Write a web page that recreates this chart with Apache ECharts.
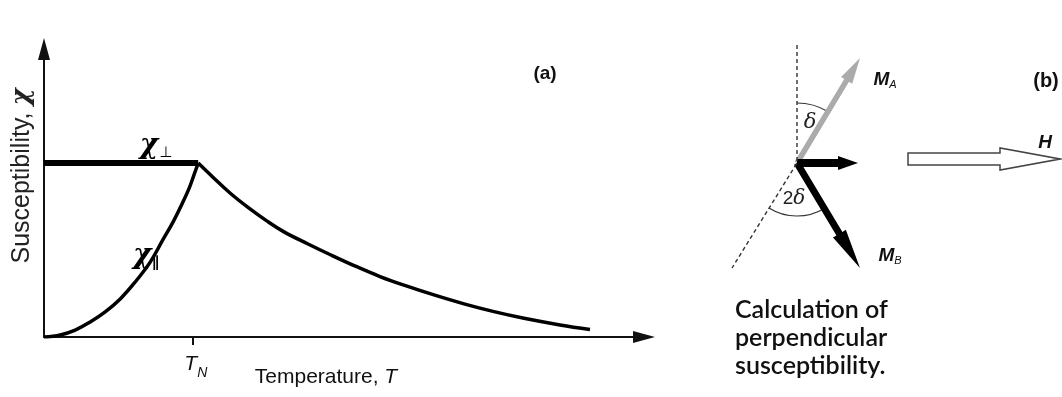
<!DOCTYPE html>
<html>
<head>
<meta charset="utf-8">
<script src="https://cdn.jsdelivr.net/npm/echarts@6/dist/echarts.min.js"></script>
<style>
  html, body { margin: 0; padding: 0; background: #fff; }
  #chart { width: 1062px; height: 397px; }
</style>
</head>
<body>
<div id="chart"></div>
<script>
// ---- Panel (a): susceptibility of an antiferromagnet against temperature ----
// Temperature (arbitrary units, 0..100) and susceptibility (arbitrary units, 0..100)
const tnTick = [24.8];                       // position of the Néel temperature tick
const chiPerp = [[0, 60.4], [25.7, 60.4]];   // perpendicular susceptibility below T_N
const chiPar = [                              // parallel susceptibility below T_N
  [0, 0], [2.7, 0.7], [5.2, 2.4], [7.7, 5.2], [10.2, 8.7], [12.7, 13.2],
  [15.2, 19.1], [17.7, 26], [19.8, 33.7], [21.5, 39.9], [23, 46.2],
  [24.2, 51.7], [25, 56.3], [25.7, 60.4]
];
const chiPara = [                             // paramagnetic region above T_N
  [25.7, 60.4], [28.2, 55.4], [31, 50], [34, 45], [37, 40.5], [40, 36.5],
  [44, 32.3], [48, 28.3], [52, 24.5], [56, 21], [60, 18], [65, 14.6],
  [70, 11.5], [75, 8.8], [80, 6.5], [86, 4.2], [91, 2.6]
];

// ---- Panel (b): sublattice magnetisations tilted by a field H ----
// Diagram units, origin at the common tail of the vectors, y pointing up.
const guideLine = [[0, 118], [0, 0], [-65, -105]];          // dashed reference directions
const angleArcs = [[0, 0, 60, 59, 90], [0, 0, 53, 238, 301]]; // cx, cy, r, from deg, to deg
const vecMA = [[0, 0, 63, 105]];
const vecNet = [[0, 0, 61, 0]];
const vecMB = [[0, 0, 63, -105]];
const fieldH = [[111, 4, 263, 4]];

const chart = echarts.init(document.getElementById('chart'), null, { renderer: 'canvas' });

// Arrow shape drawn in pixel space between two diagram points
function arrowRenderer(dim) {
  return function (params, api) {
    const p0 = api.coord([api.value(0), api.value(1)]);
    const p1 = api.coord([api.value(2), api.value(3)]);
    const dx = p1[0] - p0[0], dy = p1[1] - p0[1];
    const len = Math.hypot(dx, dy);
    const ux = dx / len, uy = dy / len, nx = -uy, ny = ux;
    const w = dim.shaft / 2, hl = dim.headLen, hw = dim.headHalf;
    const bx = p1[0] - ux * hl, by = p1[1] - uy * hl;
    const pts = [
      [p0[0] + nx * w, p0[1] + ny * w],
      [bx + nx * w, by + ny * w],
      [bx + nx * hw, by + ny * hw],
      [p1[0], p1[1]],
      [bx - nx * hw, by - ny * hw],
      [bx - nx * w, by - ny * w],
      [p0[0] - nx * w, p0[1] - ny * w]
    ];
    return {
      type: 'polygon',
      shape: { points: pts },
      style: { fill: dim.fill, stroke: dim.stroke || null, lineWidth: dim.lineWidth || 0 }
    };
  };
}

function arcRenderer(params, api) {
  const c = api.coord([api.value(0), api.value(1)]);
  const r = api.size([api.value(2), 0])[0];
  return {
    type: 'arc',
    shape: {
      cx: c[0], cy: c[1], r: r,
      startAngle: -api.value(4) * Math.PI / 180,
      endAngle: -api.value(3) * Math.PI / 180,
      clockwise: true
    },
    style: { stroke: '#333', fill: null, lineWidth: 1.2 }
  };
}

function arrowSeries(name, data, dim) {
  return {
    name: name, type: 'custom', xAxisIndex: 1, yAxisIndex: 1,
    coordinateSystem: 'cartesian2d', clip: false, silent: true,
    encode: { x: [0, 2], y: [1, 3] },
    renderItem: arrowRenderer(dim), data: data
  };
}

const axisLine = {
  show: true,
  onZero: false,
  symbol: ['none', 'triangle'],
  symbolSize: [12, 22],
  lineStyle: { color: '#111', width: 2 }
};

const serif = "'DejaVu Serif', 'Liberation Serif', serif";
const sans = "'Liberation Sans', Arial, sans-serif";

chart.setOption({
  animation: false,
  backgroundColor: '#fff',
  grid: [
    { left: 44, top: 49, width: 600, height: 288 },
    { left: 720, top: 20, width: 342, height: 360 }
  ],
  xAxis: [
    {
      type: 'value', gridIndex: 0, min: 0, max: 100,
      axisLine: axisLine,
      axisTick: { show: true, customValues: tnTick, length: 8, lineStyle: { color: '#111', width: 2 } },
      axisLabel: {
        show: true, customValues: tnTick, margin: 11,
        formatter: function () { return '{t|T}{n|N}'; },
        rich: {
          t: { fontFamily: sans, fontStyle: 'italic', fontSize: 21, color: '#111', padding: [0, 0, 0, 6] },
          n: { fontFamily: sans, fontStyle: 'italic', fontSize: 14, color: '#111', padding: [18, 0, 0, 0] }
        }
      },
      splitLine: { show: false }
    },
    { type: 'value', gridIndex: 1, min: -77, max: 265, show: false }
  ],
  yAxis: [
    {
      type: 'value', gridIndex: 0, min: 0, max: 100,
      axisLine: axisLine,
      axisTick: { show: false }, axisLabel: { show: false }, splitLine: { show: false }
    },
    { type: 'value', gridIndex: 1, min: -217, max: 143, show: false }
  ],
  series: [
    {
      name: 'chi_perp', type: 'line', data: chiPerp, symbol: 'none',
      lineStyle: { color: '#000', width: 6 }, silent: true
    },
    {
      name: 'chi_par', type: 'line', data: chiPar, symbol: 'none', smooth: 0.4,
      lineStyle: { color: '#000', width: 3.5 }, silent: true
    },
    {
      name: 'paramagnetic', type: 'line', data: chiPara, symbol: 'none', smooth: 0.4,
      lineStyle: { color: '#000', width: 3.5 }, silent: true
    },
    {
      name: 'guides', type: 'line', xAxisIndex: 1, yAxisIndex: 1, data: guideLine,
      symbol: 'none', lineStyle: { color: '#333', width: 1.4, type: [4, 3] }, silent: true
    },
    {
      name: 'angles', type: 'custom', xAxisIndex: 1, yAxisIndex: 1, clip: false, silent: true,
      encode: { x: 0, y: 1 }, renderItem: arcRenderer, data: angleArcs
    },
    arrowSeries('M_A', vecMA, { shaft: 5.5, headLen: 26, headHalf: 6.5, fill: '#ababab' }),
    arrowSeries('M_B', vecMB, { shaft: 7, headLen: 40, headHalf: 7.5, fill: '#000' }),
    arrowSeries('net', vecNet, { shaft: 8, headLen: 20, headHalf: 7, fill: '#000' }),
    arrowSeries('H', fieldH, { shaft: 12, headLen: 60, headHalf: 11, fill: '#fff', stroke: '#444', lineWidth: 1.5 })
  ],
  graphic: [
    {
      type: 'text', x: 22, y: 176, rotation: Math.PI / 2,
      style: {
        text: 'Susceptibility, {i|χ}', font: '25px ' + sans, fill: '#222',
        align: 'center', verticalAlign: 'middle',
        rich: { i: { fontFamily: serif, fontStyle: 'italic', fontWeight: 'bold', fontSize: 26, fill: '#222' } }
      }
    },
    {
      type: 'text', x: 326, y: 377,
      style: {
        text: 'Temperature, {i|T}', font: '21px ' + sans, fill: '#111',
        align: 'center', verticalAlign: 'middle',
        rich: { i: { fontFamily: sans, fontStyle: 'italic', fontSize: 21, fill: '#111' } }
      }
    },
    {
      type: 'text', x: 156, y: 146,
      style: {
        text: '{c|χ}{s|⊥}', align: 'center', verticalAlign: 'middle',
        rich: {
          c: { fontFamily: serif, fontStyle: 'italic', fontWeight: 'bold', fontSize: 28, fill: '#000' },
          s: { fontFamily: "'DejaVu Sans', sans-serif", fontSize: 15, fill: '#000', padding: [14, 0, 0, 1] }
        }
      }
    },
    {
      type: 'text', x: 146, y: 256,
      style: {
        text: '{c|χ}{s|∥}', align: 'center', verticalAlign: 'middle',
        rich: {
          c: { fontFamily: serif, fontStyle: 'italic', fontWeight: 'bold', fontSize: 28, fill: '#000' },
          s: { fontFamily: "'DejaVu Sans', sans-serif", fontWeight: 'bold', fontSize: 15, fill: '#000', padding: [14, 0, 0, 0] }
        }
      }
    },
    {
      type: 'text', x: 545, y: 74,
      style: { text: '(a)', font: 'bold 19px ' + sans, fill: '#111', align: 'center', verticalAlign: 'middle' }
    },
    {
      type: 'text', x: 1046, y: 81,
      style: { text: '(b)', font: 'bold 20px ' + sans, fill: '#111', align: 'center', verticalAlign: 'middle' }
    },
    {
      type: 'text', x: 885, y: 80,
      style: {
        text: '{m|M}{s|A}', align: 'center', verticalAlign: 'middle',
        rich: {
          m: { fontFamily: sans, fontStyle: 'italic', fontWeight: 'bold', fontSize: 19, fill: '#111' },
          s: { fontFamily: sans, fontStyle: 'italic', fontSize: 11, fill: '#111', padding: [10, 0, 0, 0] }
        }
      }
    },
    {
      type: 'text', x: 890, y: 256,
      style: {
        text: '{m|M}{s|B}', align: 'center', verticalAlign: 'middle',
        rich: {
          m: { fontFamily: sans, fontStyle: 'italic', fontWeight: 'bold', fontSize: 19, fill: '#111' },
          s: { fontFamily: sans, fontStyle: 'italic', fontSize: 11, fill: '#111', padding: [10, 0, 0, 0] }
        }
      }
    },
    {
      type: 'text', x: 1045, y: 143,
      style: { text: 'H', font: 'italic bold 19px ' + sans, fill: '#111', align: 'center', verticalAlign: 'middle' }
    },
    {
      type: 'text', x: 810, y: 123,
      style: { text: 'δ', font: 'italic 21px ' + serif, fill: '#222', align: 'center', verticalAlign: 'middle' }
    },
    {
      type: 'text', x: 794, y: 199,
      style: {
        text: '2{d|δ}', font: '19px ' + sans, fill: '#222', align: 'center', verticalAlign: 'middle',
        rich: { d: { fontFamily: serif, fontStyle: 'italic', fontSize: 20, fill: '#222' } }
      }
    },
    {
      type: 'text', x: 735, y: 296,
      style: {
        text: 'Calculation of\nperpendicular\nsusceptibility.',
        font: '600 25px Lato, sans-serif', fill: '#111', lineHeight: 28,
        align: 'left', verticalAlign: 'top'
      }
    }
  ]
});
</script>
</body>
</html>
